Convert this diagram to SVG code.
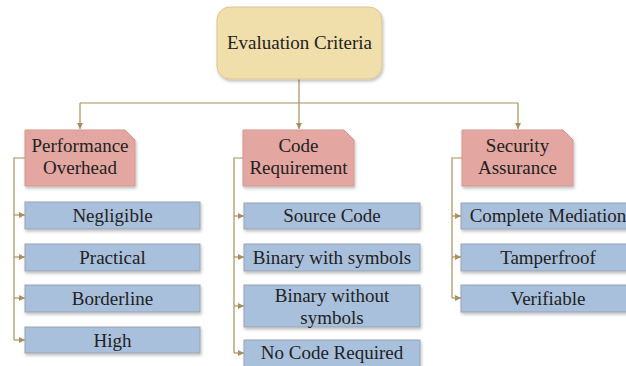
<svg xmlns="http://www.w3.org/2000/svg" width="626" height="366" viewBox="0 0 626 366">
<defs>
<filter id="sh" x="-10%" y="-10%" width="130%" height="140%">
<feDropShadow dx="1" dy="2" stdDeviation="1.5" flood-color="#000" flood-opacity="0.25"/>
</filter>
<marker id="ah" viewBox="0 0 6 6" refX="6" refY="3" markerWidth="6" markerHeight="6" orient="auto" markerUnits="userSpaceOnUse">
<path d="M0,0 L6,3 L0,6 z" fill="#a88f5c"/>
</marker>
</defs>
<style>
text{font-family:"Liberation Serif","Times New Roman",serif;font-size:19px;fill:#222;text-anchor:middle}
.root{fill:#f1dfab;stroke:#d9c690;stroke-width:1}
.cat{fill:#e3a6a0;stroke:#d49790;stroke-width:1}
.leaf{fill:#a9c0dc;stroke:#9aa4b0;stroke-width:1}
.c{fill:none;stroke:#a88f5c;stroke-width:1.2}
</style>
<rect width="626" height="366" fill="#fff"/>
<g id="connectors">
<path class="c" d="M299,79 V103"/>
<path class="c" d="M80,103 H518"/>
<path class="c" d="M80,103 V129" marker-end="url(#ah)"/>
<path class="c" d="M299,103 V129" marker-end="url(#ah)"/>
<path class="c" d="M518,103 V129" marker-end="url(#ah)"/>
<path class="c" d="M25,158 H14 V340"/>
<path class="c" d="M14,215 H25" marker-end="url(#ah)"/>
<path class="c" d="M14,257 H25" marker-end="url(#ah)"/>
<path class="c" d="M14,298 H25" marker-end="url(#ah)"/>
<path class="c" d="M14,340 H25" marker-end="url(#ah)"/>
<path class="c" d="M243,158 H234 V353"/>
<path class="c" d="M234,216 H244" marker-end="url(#ah)"/>
<path class="c" d="M234,257 H244" marker-end="url(#ah)"/>
<path class="c" d="M234,306 H244" marker-end="url(#ah)"/>
<path class="c" d="M234,353 H244" marker-end="url(#ah)"/>
<path class="c" d="M462,158 H452 V298"/>
<path class="c" d="M452,216 H461" marker-end="url(#ah)"/>
<path class="c" d="M452,257 H461" marker-end="url(#ah)"/>
<path class="c" d="M452,298 H461" marker-end="url(#ah)"/>
</g>
<g id="root">
<rect class="root" x="217" y="7" width="165" height="72" rx="13" filter="url(#sh)"/>
<text x="299.5" y="49">Evaluation Criteria</text>
</g>
<g id="perf">
<path class="cat" d="M25,130 H125 L135,140 V186 H25 Z" filter="url(#sh)"/>
<text x="80" y="152">Performance</text>
<text x="80" y="174">Overhead</text>
</g>
<g id="code">
<path class="cat" d="M243,130 H344 L354,140 V186 H243 Z" filter="url(#sh)"/>
<text x="298.5" y="152">Code</text>
<text x="298.5" y="174">Requirement</text>
</g>
<g id="sec">
<path class="cat" d="M462,130 H563 L573,140 V186 H462 Z" filter="url(#sh)"/>
<text x="517.5" y="152">Security</text>
<text x="517.5" y="174">Assurance</text>
</g>
<g id="negligible"><rect class="leaf" x="25" y="202" width="175" height="27" filter="url(#sh)"/><text x="112.5" y="222">Negligible</text></g>
<g id="practical"><rect class="leaf" x="25" y="244" width="175" height="27" filter="url(#sh)"/><text x="112.5" y="264">Practical</text></g>
<g id="borderline"><rect class="leaf" x="25" y="285" width="175" height="27" filter="url(#sh)"/><text x="112.5" y="305">Borderline</text></g>
<g id="high"><rect class="leaf" x="25" y="327" width="175" height="26" filter="url(#sh)"/><text x="112.5" y="347">High</text></g>
<g id="source"><rect class="leaf" x="244" y="203" width="176" height="26" filter="url(#sh)"/><text x="332" y="222">Source Code</text></g>
<g id="binsym"><rect class="leaf" x="244" y="244" width="176" height="27" filter="url(#sh)"/><text x="332" y="264">Binary with symbols</text></g>
<g id="binnosym"><rect class="leaf" x="244" y="285" width="176" height="42" filter="url(#sh)"/><text x="332" y="302">Binary without</text><text x="332" y="324">symbols</text></g>
<g id="nocode"><rect class="leaf" x="244" y="340" width="176" height="30" filter="url(#sh)"/><text x="332" y="359">No Code Required</text></g>
<g id="mediation"><rect class="leaf" x="461" y="203" width="175" height="26" filter="url(#sh)"/><text x="548" y="222">Complete Mediation</text></g>
<g id="tamper"><rect class="leaf" x="461" y="244" width="175" height="27" filter="url(#sh)"/><text x="548" y="264">Tamperfroof</text></g>
<g id="verifiable"><rect class="leaf" x="461" y="285" width="175" height="27" filter="url(#sh)"/><text x="548" y="305">Verifiable</text></g>
</svg>
